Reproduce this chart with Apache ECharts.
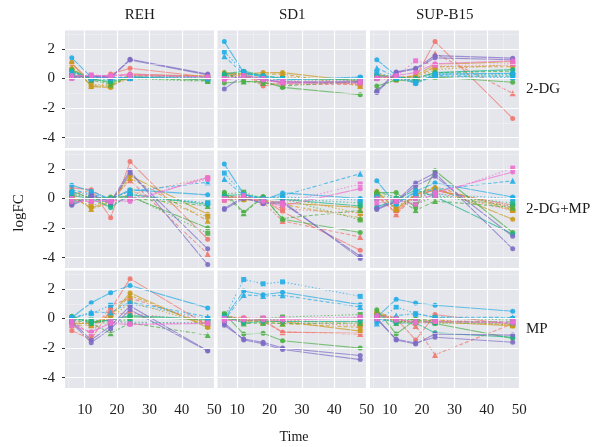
<!DOCTYPE html>
<html>
<head>
<meta charset="utf-8">
<script src="https://cdn.jsdelivr.net/npm/echarts@6/dist/echarts.min.js"></script>
<style>
  html, body { margin: 0; padding: 0; background: #fff; }
  #chart { width: 596px; height: 447px; }
</style>
</head>
<body>
<div id="chart"></div>
<script>
// Sampling times (hours) and facet labels
const times = [6, 12, 18, 24, 48];
const cellLines = ['REH', 'SD1', 'SUP-B15'];
const treatments = ['2-DG', '2-DG+MP', 'MP'];
const xTicks = [10, 20, 30, 40, 50];
const yTicks = [-4, -2, 0, 2];

// Gene colour group (index into palette) and line/marker style per gene
const palette = ['#F0766D', '#C99A1C', '#4BAF45', '#19B58C', '#22ADE6', '#7D6BC4', '#EC6FD0'];
const geneColour = [0, 0, 0, 1, 1, 1, 2, 2, 2, 3, 3, 4, 4, 4, 5, 5, 6, 6];
const geneStyle  = [0, 1, 2, 0, 1, 2, 0, 1, 2, 0, 2, 0, 1, 2, 0, 0, 0, 2];

// logFC per gene at each time point, one array per cell line x treatment
const reh_2dg = [
  [1.0, -0.2, 0.3, 0.7, 0.1], [0.3, 0.1, 0.25, 0.2, 0.2], [0.2, 0.0, 0.1, 0.1, 0.05],
  [1.1, -0.55, -0.6, 0.3, 0.15], [0.8, -0.5, -0.5, 0.2, 0.1], [0.6, -0.4, -0.45, 0.0, 0.0],
  [0.6, 0.0, -0.3, 0.1, -0.1], [0.4, -0.1, -0.4, 0.05, -0.15], [0.1, 0.1, 0.0, 0.0, -0.2],
  [0.5, -0.05, -0.2, 0.1, -0.05], [0.1, 0.0, -0.1, 0.0, 0.0],
  [1.4, 0.1, 0.0, 0.1, 0.1], [0.5, 0.0, 0.1, 0.05, 0.0], [0.2, 0.1, 0.05, 0.0, 0.05],
  [0.1, 0.2, 0.1, 1.3, 0.3], [0.05, 0.15, 0.05, 1.25, 0.25],
  [0.2, 0.2, 0.2, 0.3, 0.1], [0.0, 0.25, 0.15, 0.2, 0.1]
];
const sd1_2dg = [
  [0.3, 0.3, -0.5, -0.3, -0.3], [0.2, 0.2, -0.3, -0.4, -0.4], [0.0, 0.4, -0.2, -0.2, -0.35],
  [0.4, 0.3, 0.4, 0.4, -0.2], [0.3, 0.2, 0.3, 0.3, -0.5], [0.1, 0.1, 0.1, 0.1, -0.1],
  [-0.3, -0.2, -0.2, -0.6, -1.1], [0.4, -0.2, -0.3, -0.5, -0.2], [0.2, 0.1, 0.0, -0.1, -0.1],
  [0.3, 0.5, 0.2, 0.0, -0.1], [0.1, 0.4, 0.1, 0.0, 0.0],
  [2.5, 0.4, 0.1, -0.1, 0.1], [1.5, 0.3, 0.2, 0.0, 0.0], [1.8, 0.45, 0.1, -0.05, 0.05],
  [-0.7, 0.2, 0.0, -0.3, -0.2], [0.0, 0.1, -0.1, -0.2, -0.25],
  [-0.1, 0.1, -0.1, -0.3, -0.3], [0.0, 0.2, 0.0, -0.2, -0.15]
];
const supb15_2dg = [
  [0.2, 0.0, 0.1, 2.5, -2.7], [0.1, 0.05, 0.2, 1.7, -1.0], [0.0, -0.1, 0.0, 0.8, 0.9],
  [0.3, 0.0, 0.2, 0.94, 1.15], [0.25, 0.1, 0.1, 0.8, 0.8], [0.05, -0.05, 0.0, 0.6, 0.97],
  [-0.5, -0.1, -0.2, 0.1, -0.25], [-0.74, 0.0, 0.0, 0.4, 0.5], [0.1, 0.05, -0.1, 0.1, 0.2],
  [0.2, 0.1, 0.0, 0.4, 0.6], [0.0, 0.0, -0.1, 0.3, 0.3],
  [1.27, 0.2, -0.36, 0.3, 0.35], [0.72, 0.1, -0.2, 0.2, 0.15], [0.4, 0.05, -0.3, 0.15, 0.05],
  [-0.85, 0.45, 0.7, 1.55, 1.38], [-0.95, 0.4, 0.65, 1.4, 1.27],
  [0.05, 0.2, 0.4, 1.0, 1.2], [0.0, 0.15, 1.2, 0.9, 1.0]
];
const reh_2dgmp = [
  [0.72, 0.6, -1.3, 2.5, -2.75], [0.3, 0.55, -0.1, 1.23, -3.75], [0.1, 0.3, -0.2, 0.3, 1.4],
  [0.13, -0.62, -0.2, 1.54, -1.07], [0.2, -0.7, -0.3, 1.39, -1.5], [0.0, -0.5, -0.1, 0.54, -1.23],
  [0.5, 0.0, 0.1, 0.13, -2.0], [-0.1, -0.1, 0.0, 0.04, -0.5], [0.3, 0.1, -0.05, 0.2, -2.35],
  [0.2, 0.0, -0.6, 0.27, -0.4], [-0.2, 0.1, -0.4, 0.1, -0.3],
  [0.9, 0.5, -0.05, 0.6, 0.25], [0.6, 0.3, 0.0, 0.5, 1.1], [0.4, 0.27, -0.2, 0.3, -0.3],
  [-0.4, 0.2, -0.2, 1.88, -4.47], [-0.45, 0.1, -0.3, 1.72, -3.4],
  [-0.2, -0.2, -0.1, -0.2, 1.43], [0.0, -0.2, -0.2, 0.0, 1.3]
];
const sd1_2dgmp = [
  [0.0, 0.1, -0.06, -0.9, -3.5], [0.1, 0.2, -0.25, -1.52, -2.6], [-0.13, 0.0, -0.1, -0.7, -1.0],
  [0.13, -0.1, -0.1, -0.3, -0.6], [0.2, 0.0, -0.2, -0.4, -1.3], [0.0, -0.05, 0.05, 0.1, -1.0],
  [0.42, -0.92, 0.13, -1.4, -2.3], [0.3, -1.0, 0.1, -1.35, -0.8], [0.3, 0.43, 0.0, 0.0, -1.45],
  [0.2, 0.27, 0.05, -0.06, -0.5], [0.1, 0.1, 0.0, 0.0, -0.3],
  [2.33, 0.3, -0.1, 0.38, 0.0], [1.32, 0.2, 0.0, 0.2, 1.68], [1.72, 0.27, -0.05, 0.1, -0.1],
  [-0.67, 0.1, -0.35, -0.3, -3.9], [-0.75, 0.0, -0.3, -0.2, -4.05],
  [-0.1, 0.1, -0.2, -0.5, 0.67], [0.0, 0.2, -0.1, -0.3, 0.98]
];
const supb15_2dgmp = [
  [0.13, -0.96, 0.27, 0.55, -0.45], [0.3, -1.07, 0.2, 0.6, -0.6], [0.2, -0.8, 0.05, 0.4, -0.82],
  [0.5, -0.74, 0.27, 0.73, -1.4], [0.4, -0.7, 0.3, 0.8, -0.75], [0.3, -0.5, 0.1, 0.6, -0.8],
  [0.4, 0.4, -0.6, 1.88, -2.3], [0.45, 0.1, -0.8, -0.17, -0.6], [0.27, 0.0, -0.4, 0.13, -0.5],
  [-0.58, -0.1, 0.6, 0.13, -2.4], [0.0, 0.0, 0.0, 0.2, -0.3],
  [1.2, -0.4, 0.5, 1.05, 0.1], [-0.5, -0.3, 0.4, 0.6, 1.2], [0.1, -0.2, 0.2, 0.3, 0.0],
  [-0.67, -0.17, 1.05, 1.72, -3.4], [-0.75, -0.2, 0.85, 1.5, -2.55],
  [0.0, -0.1, -0.4, 0.4, 1.8], [-0.3, -0.2, 0.0, 0.2, 2.06]
];
const reh_mp = [
  [-0.83, -1.4, 0.6, 2.7, -0.47], [-0.2, -1.05, 0.85, 1.4, -0.34], [-0.1, -0.45, 0.33, 0.35, -0.2],
  [-0.34, -0.34, 0.2, 1.73, -0.6], [-0.45, -0.45, 0.1, 1.57, -0.5], [-0.3, -0.3, 0.0, 1.12, -0.4],
  [0.15, -0.23, -0.1, 0.12, -0.1], [-0.1, -0.3, -1.0, -0.3, -1.12], [0.0, -0.2, -0.34, 0.0, 0.0],
  [0.1, -0.3, -0.1, 0.2, -0.05], [-0.05, -0.1, -0.2, -0.25, -0.3],
  [0.07, 1.07, 1.75, 2.24, 0.72], [0.0, 0.44, 0.4, 1.12, 0.12], [0.05, 0.33, 0.9, 1.0, 0.0],
  [-0.2, -1.45, -0.5, 0.85, -2.17], [-0.3, -1.63, -0.7, 0.6, -2.2],
  [-0.5, -0.9, -0.34, -0.4, -0.34], [-0.2, -1.0, -0.2, -0.36, -0.3]
];
const sd1_mp = [
  [0.1, 0.07, -0.1, -0.92, -1.0], [0.0, -0.1, -0.2, -0.92, -1.05], [-0.1, 0.0, 0.0, -0.2, -0.5],
  [0.2, -0.15, -0.13, -0.2, -0.85], [0.1, -0.22, -0.22, -0.34, -0.6], [0.0, -0.07, 0.0, -0.07, -0.4],
  [0.33, -1.05, -1.0, -1.5, -2.0], [0.18, -0.34, -0.3, -0.34, -0.3], [0.3, -0.2, 0.0, 0.1, 0.27],
  [0.2, -0.3, -0.2, -0.2, -0.2], [0.0, -0.1, -0.1, 0.0, 0.0],
  [0.0, 1.86, 1.61, 1.78, 0.94], [-0.1, 1.6, 1.52, 1.57, 0.78], [0.05, 2.64, 2.35, 2.48, 1.5],
  [-0.45, -1.39, -1.6, -2.0, -2.5], [-0.3, -1.45, -1.7, -2.1, -2.78],
  [-0.15, -0.1, -0.1, -0.1, 0.05], [0.0, 0.0, 0.05, 0.0, 0.1]
];
const supb15_mp = [
  [0.2, 0.0, -1.45, 0.27, -0.4], [0.3, 0.1, -0.5, -2.46, -0.34], [0.1, -0.1, -0.2, -0.1, -0.3],
  [0.45, -0.22, -0.22, -0.22, -0.5], [0.5, -0.1, -0.1, -0.1, -0.45], [0.3, -0.2, -0.3, -0.3, -0.4],
  [0.6, -1.05, -0.07, -0.34, -1.34], [0.4, -0.3, 0.0, -0.2, -0.22], [0.2, 0.0, -0.1, 0.05, -0.1],
  [0.1, -0.3, -0.3, -0.97, -1.27], [0.0, -0.2, -0.2, -0.3, -0.3],
  [0.1, 1.3, 1.05, 0.9, 0.49], [-0.34, 0.2, 0.33, 0.1, 0.07], [-0.22, 0.78, 0.33, 0.05, 0.0],
  [0.05, -1.45, -1.72, -1.05, -1.12], [-0.05, -1.4, -1.65, -1.27, -1.6],
  [0.2, 0.0, -0.3, -0.2, -0.3], [0.0, -0.1, -0.2, -0.2, -0.2]
];

// Facet grid: rows = treatment, columns = cell line
const panels = [
  [reh_2dg, sd1_2dg, supb15_2dg],
  [reh_2dgmp, sd1_2dgmp, supb15_2dgmp],
  [reh_mp, sd1_mp, supb15_mp]
];

// Layout
const FONT = 'Liberation Serif';
const colLeft = [65, 217.5, 370];
const colWidth = 149.5;
const rowTop = [30.5, 150.5, 270.5];
const rowHeight = 117.5;
const X_MIN = 3.9, X_MAX = 50.1;
const Y_MIN = -4.7, Y_MAX = 3.25;
const lineTypes = ['solid', [4, 2], [1.5, 2]];
const symbols = ['circle', 'triangle', 'rect'];

const grids = [], xAxes = [], yAxes = [], series = [];
const majorX = [10, 20, 30, 40, 50], minorX = [5, 15, 25, 35, 45];
const majorY = [-4, -2, 0, 2], minorY = [-3, -1, 1, 3];

let idx = 0;
for (let r = 0; r < 3; r++) {
  for (let c = 0; c < 3; c++) {
    grids.push({
      left: colLeft[c], top: rowTop[r], width: colWidth, height: rowHeight,
      show: true, backgroundColor: '#E5E6EC', borderWidth: 0
    });
    xAxes.push({
      type: 'value', gridIndex: idx, min: X_MIN, max: X_MAX,
      axisLine: { show: false },
      axisTick: { show: r === 2, length: 3, lineStyle: { color: '#333', width: 1 }, customValues: xTicks },
      axisLabel: { show: r === 2, customValues: xTicks, color: '#222', fontFamily: FONT, fontSize: 15, margin: 15 },
      splitLine: { show: false }
    });
    yAxes.push({
      type: 'value', gridIndex: idx, min: Y_MIN, max: Y_MAX,
      axisLine: { show: false },
      axisTick: { show: c === 0, length: 3, lineStyle: { color: '#333', width: 1 }, customValues: yTicks },
      axisLabel: { show: c === 0, customValues: yTicks, color: '#222', fontFamily: FONT, fontSize: 15, margin: 10 },
      splitLine: { show: false }
    });
    // panel gridlines
    const gl = [];
    const minorStyle = { type: 'solid', color: '#F1F1F5', width: 0.6 };
    const majorStyle = { type: 'solid', color: '#FFFFFF', width: 1.2 };
    minorX.forEach(v => gl.push({ xAxis: v, lineStyle: minorStyle }));
    minorY.forEach(v => gl.push({ yAxis: v, lineStyle: minorStyle }));
    majorX.forEach(v => gl.push({ xAxis: v, lineStyle: majorStyle }));
    majorY.forEach(v => gl.push({ yAxis: v, lineStyle: majorStyle }));
    series.push({
      type: 'line', xAxisIndex: idx, yAxisIndex: idx, data: [], z: 1, silent: true,
      markLine: {
        silent: true, symbol: 'none', label: { show: false }, animation: false,
        lineStyle: { type: 'solid', color: '#FFFFFF', width: 1 },
        emphasis: { disabled: true },
        data: gl
      }
    });
    // gene trajectories
    panels[r][c].forEach((vals, g) => {
      const col = palette[geneColour[g]];
      const st = geneStyle[g];
      series.push({
        type: 'line', xAxisIndex: idx, yAxisIndex: idx, z: 3,
        data: times.map((t, k) => [t, vals[k]]),
        symbol: symbols[st], symbolSize: st === 1 ? 6 : 5,
        itemStyle: { color: col, opacity: 0.9 },
        lineStyle: { color: col, width: 1.1, type: lineTypes[st], opacity: 0.7 },
        animation: false, silent: true
      });
    });
    idx++;
  }
}

// facet strip labels and axis titles
const graphic = [];
cellLines.forEach((name, c) => graphic.push({
  type: 'text', x: colLeft[c] + colWidth / 2, y: 15,
  style: { text: name, font: '15px "' + FONT + '"', fill: '#1a1a1a', textAlign: 'center', textVerticalAlign: 'middle' }
}));
treatments.forEach((name, r) => graphic.push({
  type: 'text', x: 526, y: rowTop[r] + rowHeight / 2,
  style: { text: name, font: '15px "' + FONT + '"', fill: '#1a1a1a', textAlign: 'left', textVerticalAlign: 'middle' }
}));
graphic.push({
  type: 'text', x: 294, y: 437,
  style: { text: 'Time', font: '14px "' + FONT + '"', fill: '#1a1a1a', textAlign: 'center', textVerticalAlign: 'middle' }
});
graphic.push({
  type: 'text', x: 19, y: 213, rotation: Math.PI / 2,
  style: { text: 'logFC', font: '15px "' + FONT + '"', fill: '#1a1a1a', textAlign: 'center', textVerticalAlign: 'middle' }
});

const chart = echarts.init(document.getElementById('chart'), null, { renderer: 'canvas' });
chart.setOption({
  animation: false,
  backgroundColor: '#ffffff',
  grid: grids, xAxis: xAxes, yAxis: yAxes, series: series, graphic: graphic
});
</script>
</body>
</html>
